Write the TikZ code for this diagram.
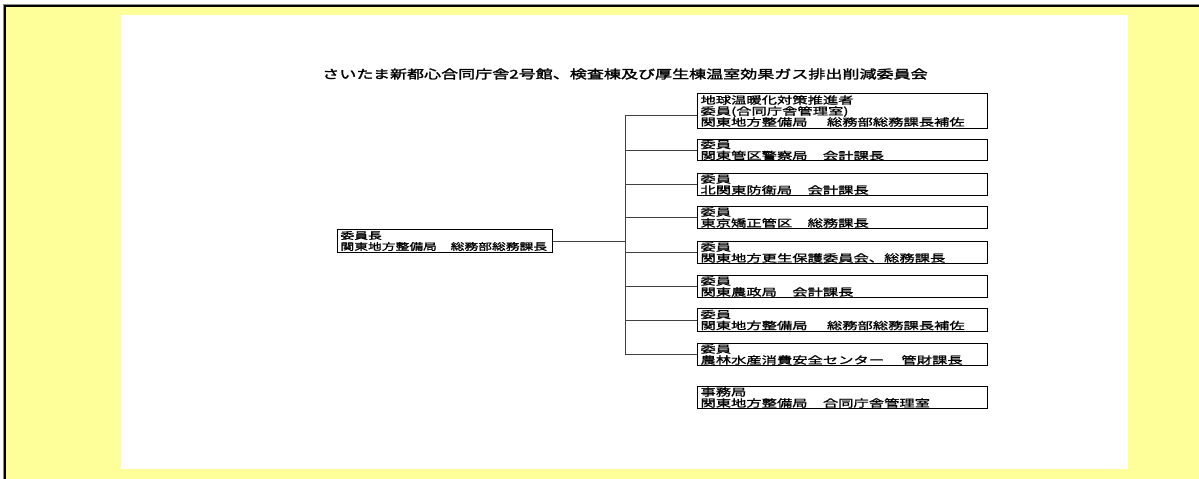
\documentclass[tikz,border=0pt]{standalone}
\usepackage{fontspec}
\newfontfamily\jp[FakeStretch=1.5,FakeBold=1.2]{Noto Sans CJK JP}
\newfontfamily\jpm[FakeStretch=1.45,FakeBold=1.2]{Noto Sans CJK JP}
\newfontfamily\jpt[FakeStretch=1.42,FakeBold=2]{Noto Sans CJK JP}
\definecolor{bgyellow}{HTML}{FFFF99}
\tikzset{
  rbox/.style={draw=black, line width=1pt, anchor=north west, minimum width=290pt,
    text width=284pt, inner xsep=3pt, inner ysep=0pt, align=left,
    font=\jp\fontsize{10.2}{11}\selectfont},
  mbox/.style={draw=black, line width=1pt, anchor=north west, minimum width=215pt,
    text width=209pt, inner xsep=3pt, inner ysep=0pt, align=left, minimum height=23pt,
    font=\jpm\fontsize{9.5}{11}\selectfont},
  conn/.style={draw=black!75, line width=1pt},
  titlestyle/.style={inner sep=0pt, font=\jpt\fontsize{12}{12}\selectfont}
}
\begin{document}
\begin{tikzpicture}[x=1pt,y=-1pt]
\useasboundingbox (0,0) rectangle (1199,479);
\fill[white] (0,0) rectangle (1199,479);
\fill[bgyellow] (5,6) rectangle (1199,479);
\fill[white] (121,15) rectangle (1128,469);
\draw[black!45, line width=0.8pt] (3.4,479) -- (3.4,4.4) -- (1199,4.4);
\draw[black, line width=2pt] (5,479) -- (5,6) -- (1199,6);

\node[titlestyle] (title) at (625,74) {さいたま新都心合同庁舎2号館、検査棟及び厚生棟温室効果ガス排出削減委員会};

\node[mbox] (m) at (337,229) {委員長\\関東地方整備局　総務部総務課長};

\node[rbox, minimum height=35pt] (b1) at (697,93) {地球温暖化対策推進者\\委員(合同庁舎管理室)\\関東地方整備局　\hspace{0.4em}総務部総務課長補佐};
\node[rbox, minimum height=21pt] (b2) at (697,139) {委員\\関東管区警察局　会計課長};
\node[rbox, minimum height=22pt] (b3) at (697,173) {委員\\北関東防衛局　会計課長};
\node[rbox, minimum height=22pt] (b4) at (697,206) {委員\\東京矯正管区　総務課長};
\node[rbox, minimum height=22pt] (b5) at (697,241) {委員\\関東地方更生保護委員会、総務課長};
\node[rbox, minimum height=22pt] (b6) at (697,275) {委員\\関東農政局　会計課長};
\node[rbox, minimum height=23pt] (b7) at (697,308) {委員\\関東地方整備局　\hspace{0.4em}総務部総務課長補佐};
\node[rbox, minimum height=22pt] (b8) at (697,343) {委員\\農林水産消費安全センター　\hspace{0.2em}管財課長};
\node[rbox, minimum height=22pt] (b9) at (697,386) {事務局\\関東地方整備局　合同庁舎管理室};

\coordinate (tt) at (625,115);
\coordinate (tb) at (625,354);
\draw[conn] (tt) -- (tb);
\draw[conn] (m.east) -- (m.east -| tt);
\draw[conn] (tt) -- (tt -| b1.west);
\foreach \b in {b2,b3,b4,b5,b6,b7,b8}{
  \draw[conn] (\b.west -| tt) -- (\b.west);
}
\end{tikzpicture}
\end{document}
